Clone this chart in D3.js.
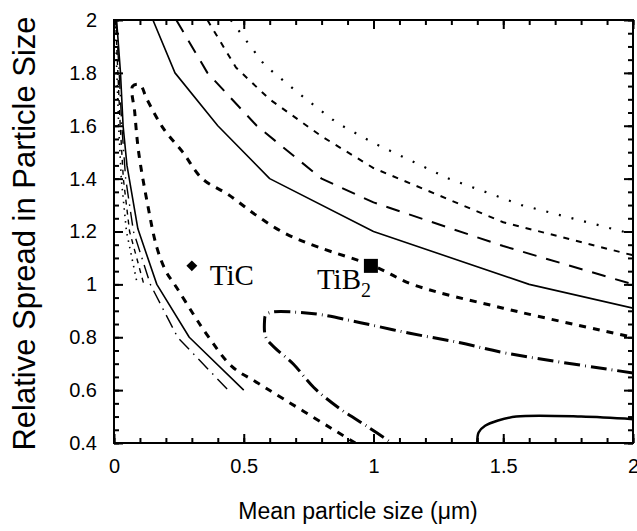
<!DOCTYPE html>
<html>
<head>
<meta charset="utf-8">
<script src="https://cdn.jsdelivr.net/npm/d3@7/dist/d3.min.js"></script>
<style>
  html, body { margin: 0; padding: 0; background: #fff; }
  svg { display: block; }
</style>
</head>
<body>
<svg id="chart" width="637" height="531"></svg>
<script>
// Axis ticks
const xMajorTicks = [0, 0.5, 1, 1.5, 2];
const xTickLabels = ["0", "0.5", "1", "1.5", "2"];
const xMinorTicks = d3.range(0, 21).map(i => i / 10);
const yMajorTicks = [0.4, 0.6, 0.8, 1.0, 1.2, 1.4, 1.6, 1.8, 2.0];
const yTickLabels = ["0.4", "0.6", "0.8", "1", "1.2", "1.4", "1.6", "1.8", "2"];
const yMinorTicks = d3.range(8, 41).map(i => i / 20);

// Contour lines: [mean particle size (µm), relative spread]
const solidUpper = [[0.15,2.0],[0.235,1.8],[0.4,1.6],[0.6,1.4],[1.0,1.2],[1.6,1.0],[2.0,0.91]];
const longDashUpper = [[0.24,2.0],[0.36,1.8],[0.55,1.6],[0.8,1.4],[1.0,1.31],[1.5,1.145],[2.0,1.0]];
const shortDashUpper = [[0.36,2.0],[0.47,1.82],[0.6,1.7],[0.8,1.56],[1.0,1.44],[1.5,1.235],[2.0,1.11]];
const dottedUpper = [[0.45,2.0],[0.58,1.83],[0.715,1.72],[0.86,1.61],[1.0,1.535],[1.29,1.40],[1.57,1.30],[2.0,1.19]];

const solidLeft = [[0.01,2.0],[0.025,1.8],[0.035,1.6],[0.05,1.45],[0.092,1.21],[0.165,1.0],[0.29,0.8],[0.5,0.6]];
const dashDotLeft = [[0.008,2.0],[0.02,1.8],[0.03,1.6],[0.045,1.4],[0.075,1.2],[0.14,1.0],[0.245,0.8],[0.44,0.6]];
const shortDashLeft = [[0.006,2.0],[0.015,1.8],[0.024,1.6],[0.036,1.4],[0.06,1.2],[0.115,1.0]];
const dottedLeft = [[0.004,2.0],[0.011,1.8],[0.018,1.6],[0.028,1.4],[0.048,1.2],[0.09,1.0]];

const thickDash = [[0.93,0.4],[0.554,0.627],[0.454,0.69],[0.358,0.81],[0.304,0.89],[0.24,0.99],[0.2,1.05],
  [0.165,1.14],[0.13,1.3],[0.095,1.5],[0.08,1.65],[0.072,1.75],[0.1,1.755],[0.127,1.70],[0.19,1.59],
  [0.265,1.50],[0.34,1.40],[0.44,1.34],[0.55,1.26],[0.665,1.19],[0.79,1.14],[1.0,1.07],[1.15,1.0],
  [1.5,0.91],[2.0,0.8]];

const dashDotLoop = [[2.0,0.665],[1.51,0.74],[1.33,0.78],[1.14,0.815],[0.95,0.855],[0.8,0.885],[0.7,0.895],
  [0.61,0.895],[0.585,0.885],[0.58,0.86],[0.585,0.80],[0.62,0.76],[0.69,0.70],[0.77,0.61],[0.87,0.53],
  [0.98,0.46],[1.07,0.4]];

const solidLoop = [[1.4,0.4],[1.405,0.44],[1.43,0.465],[1.48,0.485],[1.55,0.5],[1.8,0.5],[2.0,0.49]];

// Labelled materials
const materials = ["TiC", "TiB"];
const materialX = [0.3, 0.99];
const materialY = [1.07, 1.07];

// Line styles for each contour
const styles = {
  solid:      { w: 1.6, dash: null },
  longDash:   { w: 2.0, dash: "14,10" },
  shortDash:  { w: 2.0, dash: "6,7" },
  dotted:     { w: 2.2, dash: "2,11" },
  thickDash:  { w: 3.0, dash: "7,7" },
  dashDot:    { w: 3.0, dash: "16,5,0.8,5" },
  thinDashDot:{ w: 1.4, dash: "14,6,1.5,6" },
  thinShort:  { w: 1.4, dash: "5,5" },
  thinDot:    { w: 1.6, dash: "1.5,5" },
  solidBold:  { w: 2.5, dash: null }
};

const layers = [
  { pts: solidUpper, style: "solid", curve: d3.curveLinear },
  { pts: longDashUpper, style: "longDash", curve: d3.curveLinear },
  { pts: shortDashUpper, style: "shortDash", curve: d3.curveLinear },
  { pts: dottedUpper, style: "dotted", curve: d3.curveLinear },
  { pts: solidLeft, style: "solid", curve: d3.curveLinear },
  { pts: dashDotLeft, style: "thinDashDot", curve: d3.curveLinear },
  { pts: shortDashLeft, style: "thinShort", curve: d3.curveLinear },
  { pts: dottedLeft, style: "thinDot", curve: d3.curveLinear },
  { pts: thickDash, style: "thickDash", curve: d3.curveCatmullRom },
  { pts: dashDotLoop, style: "dashDot", curve: d3.curveCatmullRom },
  { pts: solidLoop, style: "solidBold", curve: d3.curveCatmullRom }
];

const svg = d3.select("#chart");
const margin = { left: 114, right: 4, top: 20, bottom: 88 };
const W = 637, H = 531;
const x = d3.scaleLinear().domain([0, 2]).range([margin.left, W - margin.right]);
const y = d3.scaleLinear().domain([0.4, 2]).range([H - margin.bottom, margin.top]);

const plot = svg.append("g");
svg.append("defs").append("clipPath").attr("id", "clip")
  .append("rect").attr("x", x(0)).attr("y", y(2)).attr("width", x(2) - x(0)).attr("height", y(0.4) - y(2));

const lineGen = d3.line().x(d => x(d[0])).y(d => y(d[1]));
const linesG = plot.append("g").attr("clip-path", "url(#clip)");
layers.forEach(l => {
  const st = styles[l.style];
  linesG.append("path")
    .attr("d", lineGen.curve(l.curve)(l.pts))
    .attr("fill", "none")
    .attr("stroke", "#000")
    .attr("stroke-width", st.w)
    .attr("stroke-dasharray", st.dash)
    .attr("stroke-linejoin", "round");
});

// Axes: major + minor ticks on all four sides, pointing inward
const sans = "Liberation Sans, Arial, sans-serif";
function styleAxis(g) {
  g.select(".domain").remove();
  g.selectAll(".tick line").attr("stroke", "#000").attr("stroke-width", 2);
  g.selectAll(".tick text").attr("font-family", sans)
    .attr("font-size", 20).attr("fill", "#000");
}
const fmtX = d => xTickLabels[xMajorTicks.indexOf(d)];
const fmtY = d => yTickLabels[yMajorTicks.findIndex(v => Math.abs(v - d) < 1e-9)];

svg.append("g").attr("transform", `translate(0,${y(0.4)})`)
  .call(d3.axisBottom(x).tickValues(xMinorTicks).tickSize(-5).tickFormat("")).call(styleAxis);
svg.append("g").attr("transform", `translate(0,${y(0.4)})`)
  .call(d3.axisBottom(x).tickValues(xMajorTicks).tickSize(-9).tickPadding(16).tickFormat(fmtX)).call(styleAxis);
svg.append("g").attr("transform", `translate(0,${y(2)})`)
  .call(d3.axisTop(x).tickValues(xMinorTicks).tickSize(-5).tickFormat("")).call(styleAxis);
svg.append("g").attr("transform", `translate(0,${y(2)})`)
  .call(d3.axisTop(x).tickValues(xMajorTicks).tickSize(-9).tickFormat("")).call(styleAxis);

svg.append("g").attr("transform", `translate(${x(0)},0)`)
  .call(d3.axisLeft(y).tickValues(yMinorTicks).tickSize(-5).tickFormat("")).call(styleAxis);
svg.append("g").attr("transform", `translate(${x(0)},0)`)
  .call(d3.axisLeft(y).tickValues(yMajorTicks).tickSize(-9).tickPadding(17).tickFormat(fmtY)).call(styleAxis);
svg.append("g").attr("transform", `translate(${x(2)},0)`)
  .call(d3.axisRight(y).tickValues(yMinorTicks).tickSize(-5).tickFormat("")).call(styleAxis);
svg.append("g").attr("transform", `translate(${x(2)},0)`)
  .call(d3.axisRight(y).tickValues(yMajorTicks).tickSize(-9).tickFormat("")).call(styleAxis);

// Frame
svg.append("rect")
  .attr("x", x(0)).attr("y", y(2))
  .attr("width", x(2) - x(0)).attr("height", y(0.4) - y(2))
  .attr("fill", "none").attr("stroke", "#000").attr("stroke-width", 2);

// Material markers
svg.append("path")
  .attr("transform", `translate(${x(materialX[0])},${y(materialY[0])}) rotate(45)`)
  .attr("d", d3.symbol(d3.symbolSquare, 60)())
  .attr("fill", "#000");
svg.append("path")
  .attr("transform", `translate(${x(materialX[1])},${y(materialY[1])})`)
  .attr("d", d3.symbol(d3.symbolSquare, 196)())
  .attr("fill", "#000");

// Material labels
const serif = "Liberation Serif, Times New Roman, serif";
svg.append("text")
  .attr("x", x(materialX[0]) + 18).attr("y", y(materialY[0]) + 19)
  .attr("font-family", serif).attr("font-size", 29).attr("fill", "#000")
  .text(materials[0]);
const tb = svg.append("text")
  .attr("x", x(materialX[1]) - 54).attr("y", y(materialY[1]) + 23)
  .attr("font-family", serif).attr("font-size", 29).attr("fill", "#000");
tb.append("tspan").text(materials[1]);
tb.append("tspan").attr("font-size", 20).attr("dy", 8).text("2");

// Axis titles
svg.append("text")
  .attr("x", 358).attr("y", 519)
  .attr("text-anchor", "middle")
  .attr("font-family", sans).attr("font-size", 23)
  .attr("fill", "#000")
  .text("Mean particle size (\u03BCm)");
svg.append("text")
  .attr("transform", `translate(35,${(y(0.4) + y(2)) / 2 + 2}) rotate(-90)`)
  .attr("text-anchor", "middle")
  .attr("font-family", sans).attr("font-size", 31)
  .attr("fill", "#000")
  .text("Relative Spread in Particle Size");
</script>
</body>
</html>
